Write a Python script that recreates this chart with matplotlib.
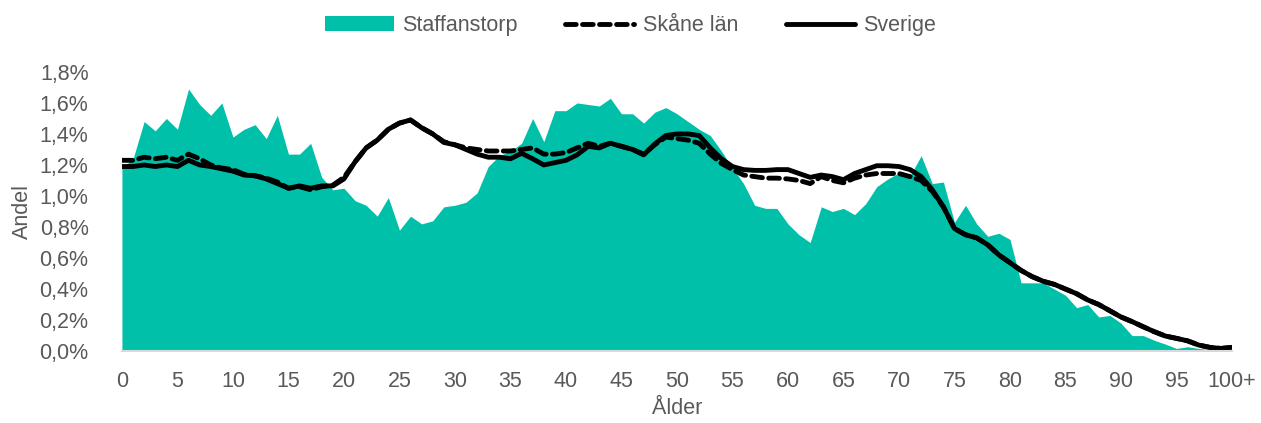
import numpy as np
import matplotlib
matplotlib.use("Agg")
import matplotlib.pyplot as plt
from matplotlib.ticker import FuncFormatter

plt.rcParams['font.family'] = ['Liberation Sans', 'DejaVu Sans']

ages = np.arange(0, 101)  # 0..100+

# andel i procent per ettårsklass
staffanstorp = [
    1.18, 1.24, 1.48, 1.42, 1.50, 1.43, 1.69, 1.59, 1.52, 1.60,
    1.38, 1.43, 1.46, 1.37, 1.52, 1.27, 1.27, 1.34, 1.12, 1.04,
    1.05, 0.97, 0.94, 0.87, 0.99, 0.78, 0.87, 0.82, 0.84, 0.93,
    0.94, 0.96, 1.02, 1.19, 1.26, 1.29, 1.34, 1.50, 1.35, 1.55,
    1.55, 1.60, 1.59, 1.58, 1.63, 1.53, 1.53, 1.47, 1.54, 1.57,
    1.53, 1.48, 1.43, 1.39, 1.29, 1.18, 1.08, 0.94, 0.92, 0.92,
    0.82, 0.75, 0.70, 0.93, 0.90, 0.92, 0.88, 0.95, 1.06, 1.11,
    1.15, 1.13, 1.26, 1.08, 1.09, 0.83, 0.94, 0.82, 0.74, 0.76,
    0.72, 0.44, 0.44, 0.44, 0.40, 0.36, 0.28, 0.30, 0.22, 0.23,
    0.18, 0.10, 0.10, 0.07, 0.045, 0.017, 0.028, 0.017, 0.01, 0.005,
    0.01,
]

skane = [
    1.23, 1.23, 1.25, 1.24, 1.25, 1.23, 1.27, 1.24, 1.20, 1.18,
    1.17, 1.14, 1.13, 1.115, 1.09, 1.05, 1.06, 1.04, 1.06, 1.07,
    1.12, 1.22, 1.31, 1.36, 1.43, 1.47, 1.49, 1.44, 1.40, 1.35,
    1.33, 1.31, 1.30, 1.29, 1.29, 1.29, 1.30, 1.31, 1.27, 1.27,
    1.28, 1.31, 1.34, 1.32, 1.34, 1.32, 1.30, 1.27, 1.33, 1.38,
    1.37, 1.36, 1.34, 1.27, 1.21, 1.17, 1.135, 1.125, 1.115, 1.115,
    1.11, 1.10, 1.08, 1.125, 1.10, 1.085, 1.115, 1.135, 1.145, 1.145,
    1.145, 1.125, 1.10, 1.03, 0.93, 0.79, 0.75, 0.73, 0.685, 0.62,
    0.57, 0.52, 0.48, 0.45, 0.43, 0.40, 0.37, 0.33, 0.30, 0.26,
    0.22, 0.19, 0.157, 0.125, 0.097, 0.082, 0.066, 0.039, 0.024, 0.017,
    0.024,
]

sverige = [
    1.19, 1.19, 1.20, 1.19, 1.20, 1.19, 1.23, 1.20, 1.19, 1.175,
    1.16, 1.135, 1.13, 1.11, 1.08, 1.05, 1.065, 1.05, 1.065, 1.065,
    1.11, 1.22, 1.31, 1.36, 1.43, 1.47, 1.49, 1.44, 1.40, 1.345,
    1.33, 1.30, 1.27, 1.25, 1.25, 1.24, 1.275, 1.24, 1.20, 1.215,
    1.23, 1.265, 1.32, 1.31, 1.34, 1.32, 1.30, 1.265, 1.335, 1.39,
    1.40, 1.40, 1.39, 1.31, 1.24, 1.19, 1.17, 1.165, 1.165, 1.17,
    1.17, 1.145, 1.12, 1.135, 1.125, 1.105, 1.145, 1.17, 1.195, 1.195,
    1.19, 1.17, 1.125, 1.04, 0.93, 0.79, 0.75, 0.73, 0.685, 0.62,
    0.57, 0.52, 0.48, 0.45, 0.43, 0.40, 0.37, 0.33, 0.30, 0.26,
    0.22, 0.19, 0.157, 0.125, 0.097, 0.082, 0.066, 0.039, 0.024, 0.017,
    0.024,
]

xtick_pos = list(range(0, 101, 5))
xtick_labels = [str(v) for v in range(0, 100, 5)] + ['100+']

grey = '#595959'
teal = '#00C0A9'

fig = plt.figure(figsize=(12.61, 4.23), dpi=100)
ax = fig.add_axes([0.0967, 0.170, 0.8803, 0.660])

ax.fill_between(ages, 0, staffanstorp, color=teal, lw=0, label='Staffanstorp')
ax.plot(ages, skane, color='black', lw=3.5, ls=(0, (2.2, 1.3)),
        dash_capstyle='round', label='Skåne län')
ax.plot(ages, sverige, color='black', lw=3.5, solid_capstyle='round',
        label='Sverige')

ax.set_xlim(0, 100)
ax.set_ylim(0, 1.8)
ax.set_yticks(np.arange(0, 1.81, 0.2))
ax.yaxis.set_major_formatter(FuncFormatter(lambda v, p: f'{v:.1f}%'.replace('.', ',')))
ax.set_xticks(xtick_pos)
ax.set_xticklabels(xtick_labels)

for s in ['top', 'right', 'left']:
    ax.spines[s].set_visible(False)
ax.spines['bottom'].set_color('#d9d9d9')
ax.spines['bottom'].set_linewidth(1.5)

ax.tick_params(axis='both', length=0, labelsize=15.5, labelcolor=grey)
ax.tick_params(axis='y', pad=24)
ax.tick_params(axis='x', pad=14)

ax.set_ylabel('Andel', fontsize=15.5, color=grey, labelpad=5)
ax.set_xlabel('Ålder', fontsize=15.5, color=grey, labelpad=5)

leg = fig.legend(loc='upper center', bbox_to_anchor=(0.5, 1.01), ncol=3,
                 frameon=False, fontsize=15.5, handlelength=3.2,
                 columnspacing=2.2, handletextpad=0.4)
for t in leg.get_texts():
    t.set_color(grey)

fig.savefig('out.png', dpi=100)
